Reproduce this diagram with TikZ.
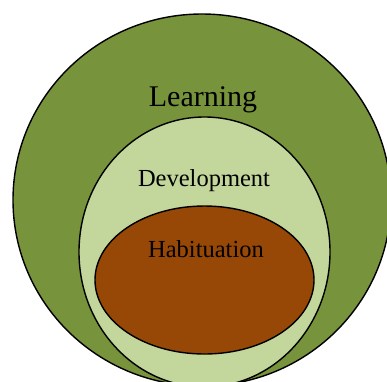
\documentclass[tikz,border=0pt]{standalone}
\usepackage{fontspec}
\setmainfont{Liberation Serif}
\usetikzlibrary{shapes.geometric, positioning}
\definecolor{olivegreen}{HTML}{77933C}
\definecolor{palegreen}{HTML}{C3D69B}
\definecolor{rustbrown}{HTML}{974806}

\begin{document}
\begin{tikzpicture}[x=1pt, y=-1pt,
    ring/.style={ellipse, draw=black, line width=1.4pt, inner sep=0pt},
    tag/.style={anchor=base, inner sep=0pt, text=black}]
    \useasboundingbox (0,0) rectangle (387,381);
    \clip (0,0) rectangle (387,381);
    % nested sets
    \node(learning) at (202,200) [ring, fill=olivegreen, minimum width=378pt, minimum height=372pt] {};
    \node(development) at (204.5,252) [ring, fill=palegreen, minimum width=251pt, minimum height=270pt] {};
    \node(habituation) at (204.5,280) [ring, fill=rustbrown, minimum width=219pt, minimum height=148pt] {};
    % labels
    \node(learningtext) at (203,106) [tag, font=\fontsize{30pt}{36pt}\selectfont] {Learning};
    \node(developmenttext) at (204,186) [tag, font=\fontsize{24.5pt}{29pt}\selectfont] {Development};
    \node(habituationtext) at (206,257) [tag, font=\fontsize{24.5pt}{29pt}\selectfont] {Habituation};
\end{tikzpicture}
\end{document}
